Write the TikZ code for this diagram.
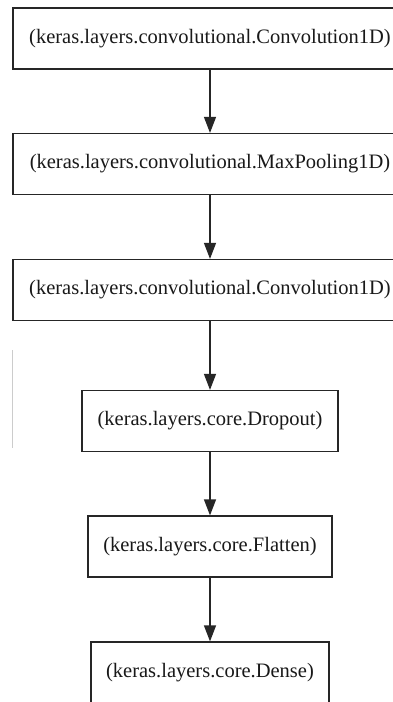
\documentclass[tikz,border=0pt]{standalone}
\usepackage{fontspec}
\setmainfont{Liberation Serif}
\usetikzlibrary{arrows.meta}
\begin{document}
\begin{tikzpicture}[x=1pt,y=-1pt,
  layer/.style={draw=black!85, line width=1.2pt, rectangle, inner sep=0pt,
    minimum height=61pt, font=\fontsize{20.5}{24}\selectfont, text=black!90},
  flow/.style={draw=black!85, line width=1.2pt, -{Triangle[length=16pt,width=12pt]}}]
\path[use as bounding box] (0,0) rectangle (393,702);
\clip (0,0) rectangle (393,702);
\fill[white] (0,0) rectangle (393,702);
\node[layer, minimum width=394pt] (c1) at (210,38.5) {(keras.layers.convolutional.Convolution1D)};
\node[layer, minimum width=394pt] (mp) at (210,164) {(keras.layers.convolutional.MaxPooling1D)};
\node[layer, minimum width=394pt] (c2) at (210,290) {(keras.layers.convolutional.Convolution1D)};
\node[layer, minimum width=256pt] (dr) at (210,421) {(keras.layers.core.Dropout)};
\node[layer, minimum width=244pt] (fl) at (210,546.5) {(keras.layers.core.Flatten)};
\node[layer, minimum width=238pt] (de) at (210,672.5) {(keras.layers.core.Dense)};
\draw[flow] (c1) -- (mp);
\draw[flow] (mp) -- (c2);
\draw[flow] (c2) -- (dr);
\draw[flow] (dr) -- (fl);
\draw[flow] (fl) -- (de);
\coordinate (g1) at (12.7,350);
\coordinate (g2) at (12.7,448);
\draw[black!20, line width=1pt] (g1) -- (g2);
\end{tikzpicture}
\end{document}
